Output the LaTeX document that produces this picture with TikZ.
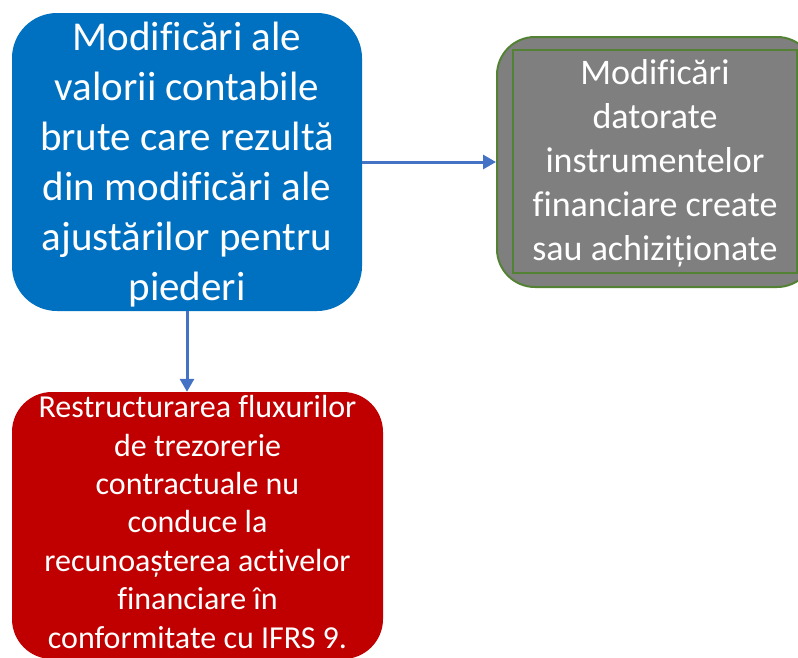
\documentclass[tikz,border=0pt]{standalone}
\usepackage{fontspec}
\setmainfont{Carlito}[Ligatures=NoCommon]
\usetikzlibrary{arrows.meta}
\definecolor{bluebox}{HTML}{0070C0}
\definecolor{redbox}{HTML}{C00000}
\definecolor{greybox}{HTML}{7F7F7F}
\definecolor{greenline}{HTML}{548235}
\definecolor{arrowblue}{HTML}{4472C4}
\begin{document}
\begin{tikzpicture}[x=1pt,y=-1pt,
  box/.style={rectangle, inner sep=0pt, draw=none},
  txt/.style={text=white, align=center, inner sep=0pt},
  conn/.style={draw=arrowblue, line width=3pt, -{Triangle[length=13pt,width=14pt]}}]
\useasboundingbox (0,0) rectangle (798,657);
\clip (0,0) rectangle (798,657);
% boxes
\node[box, fill=bluebox, rounded corners=45pt, minimum width=350pt, minimum height=298pt] (blue) at (187,162) {};
\node[box, fill=greybox, draw=greenline, line width=2pt, rounded corners=38pt, minimum width=318pt, minimum height=250pt] (grey) at (656,162) {};
\node[box, draw=greenline, line width=1.2pt, minimum width=284pt, minimum height=223pt] (greyin) at (655,161.5) {};
\node[box, fill=redbox, rounded corners=40pt, minimum width=371pt, minimum height=267pt] (red) at (197.5,525.5) {};
% texts
\node[txt, font=\fontsize{41}{50}\selectfont] (bluetxt) at (187,165) {Modificări ale\\valorii contabile\\brute care rezultă\\din modificări ale\\ajustărilor pentru\\piederi};
\node[txt, font=\fontsize{36}{44}\selectfont] (greytxt) at (655,163.5) {Modificări\\datorate\\instrumentelor\\financiare create\\sau achiziționate};
\node[txt, font=\fontsize{32}{38.4}\selectfont] (redtxt) at (197.5,522) {Restructurarea fluxurilor\\de trezorerie\\contractuale nu\\conduce la\\recunoașterea activelor\\financiare în\\conformitate cu IFRS 9.};
% connectors
\draw[conn] (blue) -- (grey);
\draw[conn] (blue.south) -- (blue.south |- red.north);
\end{tikzpicture}
\end{document}
